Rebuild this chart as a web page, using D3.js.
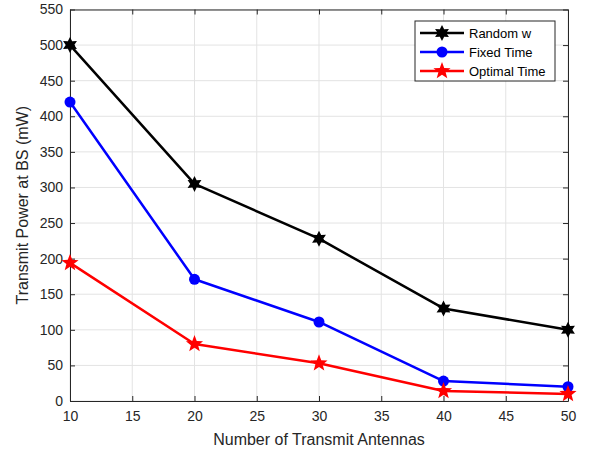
<!DOCTYPE html>
<html>
<head>
<meta charset="utf-8">
<script src="https://cdn.jsdelivr.net/npm/d3@7"></script>
<style>
  body { margin: 0; background: #fff; }
  svg { font-family: "Liberation Sans", Arial, sans-serif; }
</style>
</head>
<body>
<svg id="chart" width="595" height="455"></svg>
<script>
var antennas = [10, 20, 30, 40, 50]
var randomW = [500, 305, 228, 130, 100]
var fixedTime = [420, 171, 111, 28, 20]
var optimalTime = [194, 80, 53, 14, 10]
var xTicks = [10, 15, 20, 25, 30, 35, 40, 45, 50]
var yTicks = [0, 50, 100, 150, 200, 250, 300, 350, 400, 450, 500, 550]

var series = [
  { name: 'Random w', values: randomW, color: '#000000', marker: 'hexagram' },
  { name: 'Fixed Time', values: fixedTime, color: '#0000ff', marker: 'circle' },
  { name: 'Optimal Time', values: optimalTime, color: '#ff0000', marker: 'pentagram' }
]

var pLeft = 70, pRight = 568, pTop = 9.5, pBottom = 401
var svg = d3.select('#chart')
var x = d3.scaleLinear().domain([10, 50]).range([pLeft, pRight])
var y = d3.scaleLinear().domain([0, 550]).range([pBottom, pTop])
var axisColor = '#262626'

// grid
var grid = svg.append('g')
grid.selectAll('.gx').data(xTicks).enter().append('line')
  .attr('x1', d => x(d)).attr('x2', d => x(d))
  .attr('y1', pTop).attr('y2', pBottom)
  .attr('stroke', '#e3e3e3').attr('stroke-width', 1)
grid.selectAll('.gy').data(yTicks).enter().append('line')
  .attr('x1', pLeft).attr('x2', pRight)
  .attr('y1', d => y(d)).attr('y2', d => y(d))
  .attr('stroke', '#e3e3e3').attr('stroke-width', 1)

// axes (ticks inside)
function styleAxis(g) {
  g.select('.domain').attr('stroke', axisColor)
  g.selectAll('.tick line').attr('stroke', axisColor)
  g.selectAll('.tick text').attr('fill', axisColor).attr('font-size', '14px')
}
svg.append('g').attr('transform', 'translate(0,' + pBottom + ')')
  .call(d3.axisBottom(x).tickValues(xTicks).tickSizeInner(-5).tickSizeOuter(0).tickPadding(10))
  .call(styleAxis)
svg.append('g').attr('transform', 'translate(' + pLeft + ',0)')
  .call(d3.axisLeft(y).tickValues(yTicks).tickSizeInner(-5).tickSizeOuter(0).tickPadding(7))
  .call(styleAxis)
svg.append('g').attr('transform', 'translate(0,' + pTop + ')')
  .call(d3.axisTop(x).tickValues(xTicks).tickSizeInner(-5).tickSizeOuter(0).tickFormat(''))
  .call(styleAxis)
svg.append('g').attr('transform', 'translate(' + pRight + ',0)')
  .call(d3.axisRight(y).tickValues(yTicks).tickSizeInner(-5).tickSizeOuter(0).tickFormat(''))
  .call(styleAxis)

// labels
svg.append('text')
  .attr('x', (pLeft + pRight) / 2).attr('y', 445)
  .attr('text-anchor', 'middle').attr('font-size', '16px').attr('fill', axisColor)
  .text('Number of Transmit Antennas')
svg.append('text')
  .attr('transform', 'translate(28,' + (pTop + pBottom) / 2 + ') rotate(-90)')
  .attr('text-anchor', 'middle').attr('font-size', '16px').attr('fill', axisColor)
  .text('Transmit Power at BS (mW)')

function starPath(points, outer, inner) {
  var pts = []
  for (var i = 0; i < points * 2; i++) {
    var r = i % 2 === 0 ? outer : inner
    var a = -Math.PI / 2 + i * Math.PI / points
    pts.push([r * Math.cos(a), r * Math.sin(a)])
  }
  return 'M' + pts.map(p => p[0].toFixed(2) + ',' + p[1].toFixed(2)).join('L') + 'Z'
}

function drawMarker(g, s, cx, cy) {
  if (s.marker === 'circle') {
    g.append('circle').attr('cx', cx).attr('cy', cy).attr('r', 5.5).attr('fill', s.color)
  } else if (s.marker === 'hexagram') {
    g.append('path').attr('d', starPath(6, 8, 4.3))
      .attr('transform', 'translate(' + cx + ',' + cy + ')').attr('fill', s.color)
  } else {
    g.append('path').attr('d', starPath(5, 9, 3.8))
      .attr('transform', 'translate(' + cx + ',' + cy + ')').attr('fill', s.color)
  }
}

var line = d3.line().x(d => x(d[0])).y(d => y(d[1]))
series.forEach(function (s) {
  var pts = antennas.map((a, i) => [a, s.values[i]])
  var g = svg.append('g')
  g.append('path').datum(pts).attr('d', line)
    .attr('fill', 'none').attr('stroke', s.color).attr('stroke-width', 2.5)
    .attr('stroke-linejoin', 'round')
  pts.forEach(p => drawMarker(g, s, x(p[0]), y(p[1])))
})

// legend
var lg = svg.append('g')
lg.append('rect').attr('x', 415).attr('y', 21).attr('width', 140).attr('height', 60)
  .attr('fill', '#fff').attr('stroke', axisColor).attr('stroke-width', 1)
series.forEach(function (s, i) {
  var ly = 33 + i * 19
  lg.append('line').attr('x1', 420).attr('x2', 464).attr('y1', ly).attr('y2', ly)
    .attr('stroke', s.color).attr('stroke-width', 2.5)
  drawMarker(lg, s, 442, ly)
  lg.append('text').attr('x', 469).attr('y', ly + 4.5)
    .attr('font-size', '13px').attr('fill', '#000').text(s.name)
})
</script>
</body>
</html>
